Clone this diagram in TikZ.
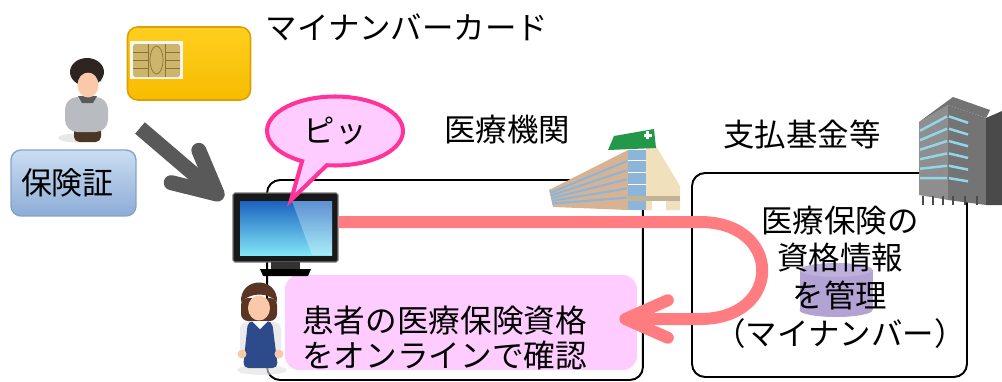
\documentclass[tikz,border=0pt]{standalone}
\usepackage{fontspec}
\newfontfamily\jpfont{Noto Sans CJK JP}
\usetikzlibrary{arrows.meta,positioning,shapes.geometric,shapes.callouts}
\definecolor{salmon}{HTML}{FF7C80}
\definecolor{hotpink}{HTML}{FF3399}
\definecolor{candy}{HTML}{FFCCFF}
\definecolor{slate}{HTML}{595959}
\definecolor{lilac}{HTML}{B3A2D4}
\definecolor{skin}{HTML}{F9C9A9}
\definecolor{hairdark}{HTML}{2E2522}
\definecolor{hairbrown}{HTML}{5A3524}
\definecolor{shirtgray}{HTML}{B8BCC0}
\definecolor{pantsbrown}{HTML}{4B3525}
\definecolor{navy}{HTML}{2D4A8A}
\definecolor{cardtop}{HTML}{FFCF1F}
\definecolor{cardbot}{HTML}{F6BC00}
\definecolor{cardedge}{HTML}{DDA000}
\definecolor{chipgold}{HTML}{CDB66B}
\definecolor{chipline}{HTML}{8C7236}
\definecolor{hokentop}{HTML}{CADDF2}
\definecolor{hokenbot}{HTML}{8DACD6}
\definecolor{hokenedge}{HTML}{86A3CA}
\definecolor{screendark}{HTML}{1B62C0}
\definecolor{screenlight}{HTML}{82E6F6}
\definecolor{wingtan}{HTML}{D8B393}
\definecolor{winblue}{HTML}{8DB5D9}
\definecolor{cream}{HTML}{F1E0BC}
\definecolor{roofgreen}{HTML}{23974A}
\definecolor{towerlt}{HTML}{8E8E8E}
\definecolor{towermd}{HTML}{747474}
\definecolor{towerdk}{HTML}{4A4A4A}
\definecolor{winsky}{HTML}{93D6EA}

\begin{document}
\begin{tikzpicture}[
  x=0.02cm,y=-0.02cm,
  jp/.style={font=\jpfont\fontsize{17.9pt}{21.4pt}\selectfont,inner sep=0},
  site/.style={draw,line width=1.1pt,rounded corners=0.26cm,inner sep=0},
  card/.style={rounded corners=0.2cm,top color=cardtop,bottom color=cardbot,draw=cardedge,line width=0.9pt,minimum width=2.46cm,minimum height=1.46cm,inner sep=0},
  hokenbox/.style={rounded corners=0.2cm,top color=hokentop,bottom color=hokenbot,draw=hokenedge,line width=0.8pt,minimum width=2.5cm,minimum height=1.32cm,text width=2.1cm,inner xsep=0.2cm,align=left},
  chat/.style={ellipse callout,fill=candy,draw=hotpink,line width=2.3pt,minimum width=2.72cm,minimum height=1.38cm,inner sep=0,callout pointer arc=22},
  grayarr/.style={draw=slate,line width=0.3cm,-{Straight Barb[length=0.85cm,width=0.85cm,round]}},
  pinkarr/.style={draw=salmon,line width=0.24cm,-{Straight Barb[length=0.85cm,width=0.75cm,round]}}
]
\useasboundingbox (0,0) rectangle (1002,382);

% the two sites
\node[site,minimum width=7.52cm,minimum height=4cm] (clinic) at (455,280) {};
\node[site,minimum width=5.5cm,minimum height=4.08cm] (payer) at (829.5,275) {};

% hospital building
\fill[wingtan] (549,190) -- (628,150) -- (628,210) -- (553,207) -- cycle;
\foreach \t in {0.16,0.32,0.48,0.64,0.8}
  \draw[winblue,line width=1.2pt] ({550+3*\t},{190+17*\t}) -- (627,{152+57*\t});
\fill[winblue] (628,150) rectangle (646,210);
\foreach \t in {160,172,184,196}
  \draw[white,line width=0.4pt] (628,\t) -- (646,\t);
\fill[cream] (646,146) -- (656,146) -- (680,186) -- (680,210) -- (646,210) -- cycle;
\fill[roofgreen] (608,150) -- (614,136) -- (654,129) -- (656,148) -- cycle;
\fill[white] (646,131) rectangle (649,139);
\fill[white] (643.5,133.5) rectangle (651.5,136.5);
\fill[cream!80!black] (628,196) rectangle (680,201);
\fill[white] (652,201) rectangle (666,210);

% office building
\fill[towerlt] (919,122) -- (948,105) -- (948,200) -- (919,195) -- cycle;
\fill[towermd] (948,105) -- (986,118) -- (986,205) -- (948,200) -- cycle;
\fill[towerdk] (986,118) -- (1002,111) -- (1002,205) -- (986,205) -- cycle;
\fill[black!55] (919,122) -- (953,97) -- (990,110) -- (986,118) -- (948,105) -- cycle;
\foreach \f in {0.12,0.25,0.38,0.51,0.64,0.77}{
  \draw[winsky,line width=1.4pt] (920,{122+73*\f}) -- (947,{105+95*\f});
  \draw[winsky,line width=1.4pt] (949,{105+95*\f}) -- (968,{112+90*\f});
}
\foreach \x in {923,933,943,953,965,977}
  \draw[black!70,line width=0.8pt] (\x,196) -- (\x,205);

% labels
\node[jp] (cardname) at (407,27) {マイナンバーカード};
\node[jp] (clinicname) at (507,130) {医療機関};
\node[jp] (payername) at (802,135) {支払基金等};

% database under the payer text
\fill[lilac] (799.5,270) rectangle (872.5,310);
\fill[lilac] (836,310) ellipse [x radius=0.73cm,y radius=0.14cm];
\fill[lilac!85!white] (836,270) ellipse [x radius=0.73cm,y radius=0.14cm];
\node[jp,align=center] (quals) at (840,277) {医療保険の\\資格情報\\を管理\\（マイナンバー）};

% reception desk
\node[fill=candy,rounded corners=0.28cm,minimum width=7.04cm,minimum height=1.9cm,inner sep=0] (check) at (461,322.5) {};
\node[jp,align=left,anchor=west,font=\jpfont\fontsize{18pt}{19.9pt}\selectfont] (checktext) at (302,338) {患者の医療保険資格\\をオンラインで確認};

% receptionist
\fill[black!12,opacity=0.6] (262,370) ellipse [x radius=0.5cm,y radius=0.1cm];
\fill[hairbrown,rounded corners=4pt] (241,298) rectangle (277,321);
\fill[skin] (259,308) ellipse [x radius=0.22cm,y radius=0.25cm];
\fill[hairbrown] (241,302) .. controls (240,276) and (278,276) .. (277,302) .. controls (268,292) and (251,292) .. (241,302) -- cycle;
\fill[white!92!black,rounded corners=4pt] (240,322) rectangle (281,354);
\fill[navy,rounded corners=3pt] (248,321) -- (272,321) -- (278,368) -- (243,368) -- cycle;
\fill[white] (252,321) -- (268,321) -- (260,329) -- cycle;
\fill[skin] (242,354) circle [radius=0.09cm];
\fill[skin] (279,354) circle [radius=0.09cm];

% terminal
\node[fill=black!90,draw=black!55,line width=0.6pt,rounded corners=1pt,minimum width=2.1cm,minimum height=1.38cm,inner sep=0] (monitor) at (285.5,227.5) {};
\shade[top color=screendark,bottom color=screenlight] (240,201) rectangle (332,255);
\fill[white,opacity=0.3] (292,201) -- (332,201) -- (332,255) -- (312,255) -- cycle;
\fill[black!80] (271,262) rectangle (300,269);
\fill[black] (260,269) -- (311,269) -- (308,276) -- (263,276) -- cycle;

\node[chat,callout absolute pointer={(291,200)}] (beep) at (335,131) {\jpfont\fontsize{17.9pt}{21pt}\selectfont ピッ};

% card
\node[card] (mynacard) at (189,63.5) {};
\node[fill=black!4,minimum width=1.06cm,minimum height=0.78cm,inner sep=0] (chip) at (156.5,60) {};
\fill[chipgold,rounded corners=1pt] (133,44) rectangle (180,77);
\draw[chipline,line width=0.4pt] (148,44) -- (148,77) (165,44) -- (165,77);
\foreach \y in {52,60,68}
  \draw[chipline,line width=0.4pt] (133,\y) -- (148,\y) (165,\y) -- (180,\y);
\draw[chipline,line width=0.4pt] (156.5,60) ellipse [x radius=0.13cm,y radius=0.28cm];

% visitor
\fill[black!15,opacity=0.6] (78,138) ellipse [x radius=0.4cm,y radius=0.09cm];
\fill[pantsbrown,rounded corners=3pt] (74,124) rectangle (101,142);
\fill[shirtgray,rounded corners=7pt] (65,97) rectangle (108,132);
\fill[black!65] (78,96) -- (97,96) -- (93,103) -- (82,103) -- cycle;
\fill[hairdark] (87,72) ellipse [x radius=0.34cm,y radius=0.28cm];
\fill[skin] (88,85) ellipse [x radius=0.21cm,y radius=0.25cm];
\fill[hairdark] (76,82) .. controls (80,70) and (96,68) .. (101,82) -- (101,68) -- (76,68) -- cycle;

\node[hokenbox] (hoken) at (73.5,183) {\jpfont\fontsize{17.6pt}{21pt}\selectfont 保険証};

% flows
\coordinate (hand) at (140,128);
\coordinate (desk) at (223,199);
\draw[grayarr] (hand) -- (desk);
\draw[pinkarr] ([yshift=0.11cm]monitor.east) -- (700,222) .. controls (783,222) and (783,319) .. (700,319) -- ([xshift=-0.36cm,yshift=0.07cm]check.east);
\end{tikzpicture}
\end{document}
